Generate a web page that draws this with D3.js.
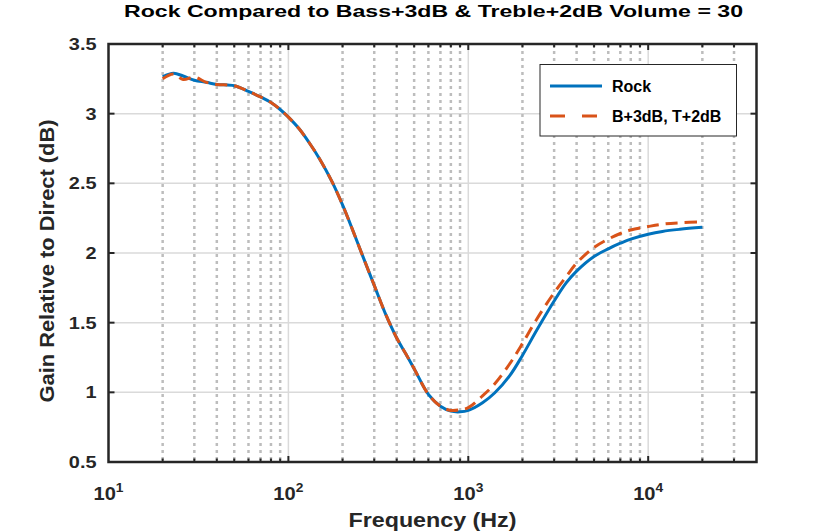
<!DOCTYPE html>
<html><head><meta charset="utf-8">
<script src="https://cdn.jsdelivr.net/npm/d3@7"></script>
<style>body{margin:0;background:#fff}svg{display:block;font-family:"Liberation Sans",Arial,sans-serif}</style>
</head><body><svg id="c" width="836" height="532"></svg>
<script>
const title = "Rock Compared to Bass+3dB & Treble+2dB Volume = 30";
const xLabel = "Frequency (Hz)";
const yLabel = "Gain Relative to Direct (dB)";
const seriesNames = ["Rock", "B+3dB, T+2dB"];
const freqs = [20,23,26,30,35,40,50,60,70,80,90,100,115,130,150,175,200,230,260,300,350,400,450,500,600,700,800,900,1000,1200,1400,1700,2000,2400,3000,3500,4000,5000,6000,7000,8000,10000,12000,15000,20000];
const rock = [3.265,3.29,3.27,3.24,3.225,3.21,3.20,3.16,3.12,3.08,3.03,2.975,2.89,2.795,2.67,2.51,2.345,2.15,1.972,1.768,1.55,1.39,1.275,1.17,0.985,0.90,0.865,0.86,0.87,0.925,0.995,1.12,1.265,1.445,1.655,1.785,1.87,1.975,2.03,2.07,2.10,2.135,2.155,2.17,2.184];
const bt = [3.25,3.285,3.245,3.262,3.225,3.21,3.20,3.16,3.12,3.08,3.03,2.975,2.89,2.795,2.67,2.51,2.345,2.15,1.972,1.768,1.55,1.39,1.275,1.17,0.985,0.90,0.87,0.875,0.89,0.975,1.06,1.205,1.35,1.525,1.715,1.83,1.927,2.04,2.10,2.14,2.165,2.19,2.207,2.217,2.224];
const yTicks = [0.5,1,1.5,2,2.5,3,3.5];
const xDecades = [10,100,1000,10000];
const xDomain = [10,40000];
const yDomain = [0.5,3.5];

const svg = d3.select("#c");
const L=108.5,R=756.5,T=44,B=462;
const x = d3.scaleLog().domain(xDomain).range([L,R]);
const y = d3.scaleLinear().domain(yDomain).range([B,T]);

const minor = [];
for (let d=10; d<40000; d*=10) for (let k=2;k<=9;k++){ const v=d*k; if (v<40000) minor.push(v);} 

const g = svg.append("g");
g.selectAll(".yg").data(yTicks.filter(v=>v>0.5&&v<3.5)).join("line")
 .attr("x1",L).attr("x2",R).attr("y1",d=>y(d)).attr("y2",d=>y(d))
 .attr("stroke","#dadada").attr("stroke-width",1.5);
g.selectAll(".xm").data(minor).join("line")
 .attr("x1",d=>x(d)).attr("x2",d=>x(d)).attr("y1",T).attr("y2",B)
 .attr("stroke","#bdbdbd").attr("stroke-width",2.5).attr("stroke-dasharray","3,4");
g.selectAll(".xg").data(xDecades.filter(v=>v>10)).join("line")
 .attr("x1",d=>x(d)).attr("x2",d=>x(d)).attr("y1",T).attr("y2",B)
 .attr("stroke","#dadada").attr("stroke-width",1.5);

const idx = d3.range(freqs.length);
const curve = d3.curveCatmullRom.alpha(0.5);
const lineR = d3.line().x(i=>x(freqs[i])).y(i=>y(rock[i])).curve(curve);
const lineB = d3.line().x(i=>x(freqs[i])).y(i=>y(bt[i])).curve(curve);
svg.append("path").attr("d",lineR(idx)).attr("fill","none").attr("stroke","#0072BD").attr("stroke-width",3);
svg.append("path").attr("d",lineB(idx)).attr("fill","none").attr("stroke","#D95319").attr("stroke-width",3).attr("stroke-dasharray","12,7");

const ax = svg.append("g").attr("stroke","#262626");
const majX = xDecades.filter(v=>v>10);
[B,T].forEach((yy,j)=>{
  const dir = j===0?-1:1;
  ax.selectAll(null).data(majX).join("line").attr("x1",d=>x(d)).attr("x2",d=>x(d)).attr("y1",yy).attr("y2",yy+dir*6).attr("stroke-width",2);
  ax.selectAll(null).data(minor).join("line").attr("x1",d=>x(d)).attr("x2",d=>x(d)).attr("y1",yy).attr("y2",yy+dir*3.5).attr("stroke-width",2);
});
[L,R].forEach((xx,j)=>{
  const dir = j===0?1:-1;
  ax.selectAll(null).data(yTicks).join("line").attr("y1",d=>y(d)).attr("y2",d=>y(d)).attr("x1",xx).attr("x2",xx+dir*6).attr("stroke-width",2);
});
ax.append("rect").attr("x",L).attr("y",T).attr("width",R-L).attr("height",B-T).attr("fill","none").attr("stroke-width",2.5);

svg.selectAll(".yl").data(yTicks).join("text")
 .attr("transform",d=>`translate(${L-12},${y(d)+6}) scale(1.17,1)`).attr("text-anchor","end")
 .attr("font-size",17).attr("font-weight","bold").attr("fill","#262626")
 .text(d=>String(d));
xDecades.forEach(v=>{
  const t = svg.append("text").attr("transform",`translate(${x(v)},500) scale(1.15,1)`).attr("text-anchor","middle")
   .attr("font-size",17.5).attr("font-weight","bold").attr("fill","#262626");
  t.append("tspan").text("10");
  t.append("tspan").attr("dy",-8.5).attr("font-size",12).text(String(Math.round(Math.log10(v))));
});

svg.append("text").attr("x",(L+R)/2).attr("y",527).attr("text-anchor","middle")
 .attr("font-size",20).attr("font-weight","bold").attr("fill","#262626")
 .attr("textLength",168).attr("lengthAdjust","spacingAndGlyphs").text(xLabel);
svg.append("text").attr("transform",`translate(54,261) rotate(-90)`).attr("text-anchor","middle")
 .attr("font-size",20).attr("font-weight","bold").attr("fill","#262626")
 .attr("textLength",283).attr("lengthAdjust","spacingAndGlyphs").text(yLabel);
svg.append("text").attr("x",433.5).attr("y",17).attr("text-anchor","middle")
 .attr("font-size",16.5).attr("font-weight","bold").attr("fill","#000")
 .attr("textLength",619).attr("lengthAdjust","spacingAndGlyphs").text(title);

const lg = svg.append("g");
lg.append("rect").attr("x",540).attr("y",64.5).attr("width",196.5).attr("height",71.5)
 .attr("fill","#fff").attr("stroke","#262626").attr("stroke-width",1);
const colors=["#0072BD","#D95319"], dashes=[null,"15,17"], rowsY=[86,116];
seriesNames.forEach((n,i)=>{
  lg.append("line").attr("x1",550).attr("x2",602).attr("y1",rowsY[i]).attr("y2",rowsY[i])
   .attr("stroke",colors[i]).attr("stroke-width",3).attr("stroke-dasharray",dashes[i]);
  lg.append("text").attr("x",612).attr("y",rowsY[i]+5.7).attr("font-size",16).attr("font-weight","bold").attr("fill","#000").text(n);
});
</script></body></html>
